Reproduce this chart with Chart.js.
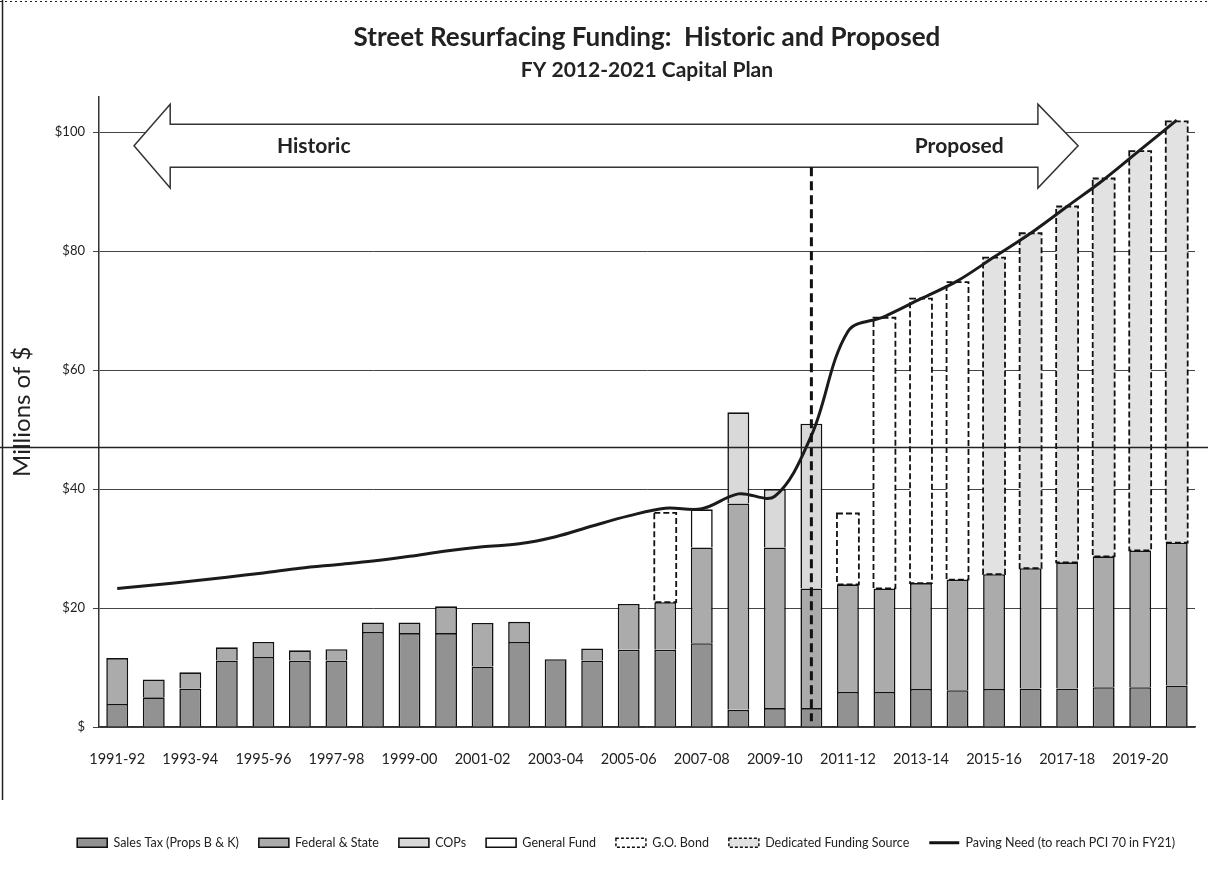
<!DOCTYPE html>
<html>
<head>
<meta charset="utf-8">
<script src="https://cdn.jsdelivr.net/npm/chart.js@4.4.1/dist/chart.umd.min.js"></script>
<style>
html, body { margin: 0; padding: 0; background: #fff; }
</style>
</head>
<body>
<canvas id="myChart" width="1208" height="885"></canvas>
<script>
// fiscal years on the x axis
const years = ['1991-92', '1992-93', '1993-94', '1994-95', '1995-96', '1996-97', '1997-98', '1998-99',
    '1999-00', '2000-01', '2001-02', '2002-03', '2003-04', '2004-05', '2005-06', '2006-07', '2007-08',
    '2008-09', '2009-10', '2010-11', '2011-12', '2012-13', '2013-14', '2014-15', '2015-16', '2016-17',
    '2017-18', '2018-19', '2019-20', '2020-21'];

// $ millions
const salesTax = [3.9, 5.0, 6.5, 11.2, 11.8, 11.2, 11.2, 16.0, 15.8, 15.8, 10.2, 14.3, 11.4, 11.2, 13.0,
    13.0, 14.1, 2.9, 3.2, 3.2, 5.9, 5.9, 6.4, 6.2, 6.4, 6.5, 6.5, 6.7, 6.7, 7.0];
const fedState = [7.7, 3.0, 2.7, 2.2, 2.5, 1.7, 1.9, 1.6, 1.8, 4.5, 7.3, 3.4, null, 2.0, 7.7,
    8.0, 16.1, 34.7, 27.0, 20.1, 18.1, 17.4, 17.8, 18.6, 19.3, 20.2, 21.2, 22.0, 23.0, 24.0];
const cops = [null, null, null, null, null, null, null, null, null, null, null, null, null, null, null,
    null, null, 15.3, 9.8, 27.7, null, null, null, null, null, null, null, null, null, null];
const generalFund = [null, null, null, null, null, null, null, null, null, null, null, null, null, null, null,
    null, 6.4, null, null, null, null, null, null, null, null, null, null, null, null, null];
const goBond = [null, null, null, null, null, null, null, null, null, null, null, null, null, null, null,
    15.0, null, null, null, null, 11.9, 45.5, 47.8, 50.0, null, null, null, null, null, null];
const dedicated = [null, null, null, null, null, null, null, null, null, null, null, null, null, null, null,
    null, null, null, null, null, null, null, null, null, 53.2, 56.3, 59.8, 63.5, 67.1, 70.8];
const pavingNeed = [23.3, 23.9, 24.5, 25.2, 25.9, 26.7, 27.3, 27.9, 28.7, 29.6, 30.3, 30.8, 32.0, 33.8, 35.5,
    36.8, 36.7, 39.2, 38.8, 49.0, 66.5, 69.0, 72.0, 75.0, 79.0, 83.0, 87.5, 92.0, 97.0, 102.0];

const yTicks = [0, 20, 40, 60, 80, 100];

Chart.defaults.font.family = 'Lato, "Open Sans", sans-serif';
Chart.defaults.color = '#222';

function barSet(label, data, fill, dashed) {
    return {
        label: label,
        data: data,
        backgroundColor: fill,
        borderColor: '#111',
        borderWidth: dashed ? 0 : 1.6,
        dashed: dashed,
        stack: 'funding',
        barPercentage: 0.6,
        categoryPercentage: 1
    };
}

// arrow, divider and scan marks drawn over the chart
const overlayPlugin = {
    id: 'overlay',
    beforeDatasetsDraw(chart) {
        const ctx = chart.ctx;
        const xs = chart.scales.x, ys = chart.scales.y;
        const xl = xs.getPixelForValue(0.46), xlb = xs.getPixelForValue(1.45);
        const xr = xs.getPixelForValue(26.3), xrb = xs.getPixelForValue(25.2);
        const yMid = ys.getPixelForValue(97.7);
        const bTop = ys.getPixelForValue(101.3), bBot = ys.getPixelForValue(94.1);
        const hTop = ys.getPixelForValue(104.7), hBot = ys.getPixelForValue(90.6);
        ctx.save();
        ctx.beginPath();
        ctx.moveTo(xl, yMid);
        ctx.lineTo(xlb, hTop);
        ctx.lineTo(xlb, bTop);
        ctx.lineTo(xrb, bTop);
        ctx.lineTo(xrb, hTop);
        ctx.lineTo(xr, yMid);
        ctx.lineTo(xrb, hBot);
        ctx.lineTo(xrb, bBot);
        ctx.lineTo(xlb, bBot);
        ctx.lineTo(xlb, hBot);
        ctx.closePath();
        ctx.fillStyle = '#fff';
        ctx.fill();
        ctx.strokeStyle = '#333';
        ctx.lineWidth = 1.5;
        ctx.stroke();
        ctx.fillStyle = '#222';
        ctx.font = 'bold 21px Lato, sans-serif';
        ctx.textBaseline = 'middle';
        ctx.textAlign = 'left';
        ctx.fillText('Historic', xs.getPixelForValue(4.37), yMid);
        ctx.textAlign = 'right';
        ctx.fillText('Proposed', xs.getPixelForValue(24.26), yMid);
        ctx.restore();
    },
    afterDatasetDraw(chart, args) {
        const ds = chart.data.datasets[args.index];
        if (!ds.dashed) return;
        const ctx = chart.ctx;
        ctx.save();
        ctx.strokeStyle = '#111';
        ctx.lineWidth = 1.8;
        ctx.setLineDash([6, 3]);
        args.meta.data.forEach((bar, i) => {
            if (ds.data[i] == null) return;
            const p = bar.getProps(['x', 'y', 'base', 'width'], true);
            ctx.strokeRect(p.x - p.width / 2, Math.min(p.y, p.base), p.width, Math.abs(p.base - p.y));
        });
        ctx.restore();
    },
    afterDatasetsDraw(chart) {
        const ctx = chart.ctx;
        const xs = chart.scales.x, ys = chart.scales.y;
        const x = xs.getPixelForValue(19);
        ctx.save();
        ctx.strokeStyle = '#111';
        ctx.lineWidth = 3;
        ctx.setLineDash([9, 5]);
        ctx.beginPath();
        ctx.moveTo(x, ys.getPixelForValue(94.1));
        ctx.lineTo(x, ys.getPixelForValue(1));
        ctx.stroke();
        ctx.restore();
    },
    afterDraw(chart) {
        // marks from the scanned page
        const ctx = chart.ctx;
        const y = chart.scales.y.getPixelForValue(47);
        ctx.save();
        ctx.strokeStyle = '#222';
        ctx.lineWidth = 1.5;
        ctx.beginPath();
        ctx.moveTo(0, y);
        ctx.lineTo(chart.width, y);
        ctx.moveTo(2.5, 0);
        ctx.lineTo(2.5, 800);
        ctx.stroke();
        ctx.setLineDash([2, 3]);
        ctx.lineWidth = 1;
        ctx.beginPath();
        ctx.moveTo(0, 1.5);
        ctx.lineTo(chart.width, 1.5);
        ctx.stroke();
        ctx.restore();
    }
};

const config = {
    type: 'bar',
    data: {
        labels: years,
        datasets: [
            barSet('Sales Tax (Props B & K)', salesTax, '#929292', false),
            barSet('Federal & State', fedState, '#ababab', false),
            barSet('COPs', cops, '#d9d9d9', false),
            barSet('General Fund', generalFund, '#ffffff', false),
            barSet('G.O. Bond', goBond, '#ffffff', true),
            barSet('Dedicated Funding Source', dedicated, '#e2e2e2', true),
            {
                type: 'line',
                label: 'Paving Need (to reach PCI 70 in FY21)',
                data: pavingNeed,
                borderColor: '#1b1b1b',
                backgroundColor: '#1b1b1b',
                borderWidth: 3,
                pointRadius: 0,
                tension: 0.35,
                stack: 'need',
                order: -1
            }
        ]
    },
    options: {
        responsive: false,
        animation: false,
        layout: { padding: { left: 8, right: 13, bottom: 26 } },
        plugins: {
            tooltip: { enabled: false },
            title: {
                display: true,
                fullSize: false,
                text: 'Street Resurfacing Funding:  Historic and Proposed',
                font: { size: 26, weight: 'bold', lineHeight: 1.2 },
                color: '#222',
                padding: { top: 22, bottom: 0 }
            },
            subtitle: {
                display: true,
                fullSize: false,
                text: 'FY 2012-2021 Capital Plan',
                font: { size: 21, weight: 'bold', lineHeight: 1.2 },
                color: '#222',
                padding: { top: 4, bottom: 14 }
            },
            legend: {
                position: 'bottom',
                align: 'end',
                labels: {
                    usePointStyle: true,
                    pointStyleWidth: 30,
                    boxHeight: 9,
                    padding: 20,
                    font: { size: 12.5 },
                    color: '#222',
                    sort: (a, b) => a.datasetIndex - b.datasetIndex,
                    generateLabels(chart) {
                        const items = Chart.defaults.plugins.legend.labels.generateLabels(chart);
                        items.forEach(it => {
                            const ds = chart.data.datasets[it.datasetIndex];
                            it.pointStyle = ds.type === 'line' ? 'line' : 'rect';
                            it.strokeStyle = '#111';
                            if (ds.dashed) {
                                it.lineDash = [3, 2];
                                it.lineWidth = 1.5;
                            }
                        });
                        return items;
                    }
                }
            }
        },
        scales: {
            x: {
                stacked: true,
                grid: { display: false },
                border: { color: '#333', width: 1.5 },
                ticks: {
                    autoSkip: false,
                    maxRotation: 0,
                    padding: 16,
                    font: { size: 14.5 },
                    color: '#222',
                    callback: (v, i) => i % 2 === 0 ? years[i] : ''
                },
                afterFit: scale => { scale.height += 32; }
            },
            y: {
                stacked: true,
                min: 0,
                max: 106,
                afterBuildTicks: axis => { axis.ticks = yTicks.map(v => ({ value: v })); },
                grid: { color: '#444', lineWidth: 1, tickLength: 6 },
                border: { color: '#333', width: 1.5 },
                ticks: {
                    padding: 8,
                    font: { size: 13 },
                    color: '#222',
                    callback: v => v === 0 ? '$' : '$' + v
                },
                title: {
                    display: true,
                    text: 'Millions of $',
                    font: { size: 24 },
                    color: '#222',
                    padding: { top: 0, bottom: 10 }
                }
            }
        }
    },
    plugins: [overlayPlugin]
};

const myChart = new Chart(document.getElementById('myChart'), config);
</script>
</body>
</html>
